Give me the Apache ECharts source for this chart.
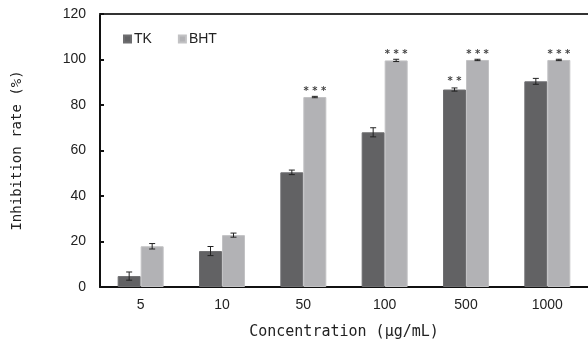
<!DOCTYPE html>
<html><head><meta charset="utf-8">
<script src="https://cdn.jsdelivr.net/npm/echarts@6/dist/echarts.min.js"></script>
<style>html,body{margin:0;padding:0;background:#fff}#c{width:588px;height:347px}</style>
</head><body><div id="c"></div>
<script>
const categories = ['5', '10', '50', '100', '500', '1000'];
const tkValues = [4.8, 15.8, 50.4, 68.0, 86.8, 90.4];
const tkErrors = [1.8, 2.0, 1.0, 2.0, 0.7, 1.3];
const bhtValues = [17.9, 22.8, 83.5, 99.6, 99.8, 99.8];
const bhtErrors = [1.2, 0.9, 0.3, 0.5, 0.3, 0.3];
const tkSig = ['', '', '', '', '**', ''];
const bhtSig = ['', '', '***', '***', '***', '***'];
const yTicks = [0, 20, 40, 60, 80, 100, 120];

const chart = echarts.init(document.getElementById('c'));
const barW = 23;
function errSeries(name, vals, errs, offset) {
  return {
    type: 'custom', name: name + '_err', silent: true, z: 5,
    data: vals.map((v, i) => [i, v, errs[i]]),
    renderItem: function (params, api) {
      const i = api.value(0), v = api.value(1), e = api.value(2);
      const hi = api.coord([i, v + e]);
      const lo = api.coord([i, v - e]);
      const x = hi[0] + offset;
      const cap = 3;
      const st = { stroke: '#222', lineWidth: 1 };
      return { type: 'group', children: [
        { type: 'line', shape: { x1: x, y1: hi[1], x2: x, y2: lo[1] }, style: st },
        { type: 'line', shape: { x1: x - cap, y1: hi[1], x2: x + cap, y2: hi[1] }, style: st },
        { type: 'line', shape: { x1: x - cap, y1: lo[1], x2: x + cap, y2: lo[1] }, style: st }
      ]};
    }
  };
}
function sigLabel(sig) {
  return {
    show: true, position: 'top', fontSize: 10, color: '#444', fontFamily: 'DejaVu Sans', fontWeight: 'bold',
    formatter: p => sig[p.dataIndex].split('').join(' ')
  };
}
const option = {
  animation: false,
  grid: { left: 100, top: 14, width: 491, height: 273 },
  legend: {
    left: 118, top: 27, itemWidth: 7, itemHeight: 7, itemGap: 26, icon: 'rect',
    textStyle: { fontFamily: 'Liberation Sans', fontSize: 14, color: '#222', padding: [0, 0, 0, -2] },
    data: ['TK', 'BHT']
  },
  xAxis: [{
    type: 'category', data: categories,
    name: 'Concentration (μg/mL)', nameLocation: 'middle', nameGap: 38,
    nameTextStyle: { fontFamily: 'DejaVu Sans Mono', fontSize: 15, color: '#222' },
    axisLine: { lineStyle: { color: '#111', width: 2 } },
    axisTick: { inside: true, length: 5, lineStyle: { color: '#111', width: 2 } },
    axisLabel: { fontFamily: 'Liberation Sans', fontSize: 14, color: '#222', margin: 11 }
  }, {
    type: 'category', data: categories, position: 'top',
    axisLine: { show: true, lineStyle: { color: '#333', width: 2 } },
    axisTick: { show: false }, axisLabel: { show: false }
  }],
  yAxis: {
    type: 'value', min: 0, max: 120, interval: 20,
    name: 'Inhibition rate (%)', nameLocation: 'middle', nameGap: 76,
    nameTextStyle: { fontFamily: 'DejaVu Sans Mono', fontSize: 14, color: '#222' },
    axisLine: { show: true, lineStyle: { color: '#111', width: 2 } },
    axisTick: { show: true, inside: true, length: 4, lineStyle: { color: '#111', width: 2 } },
    axisLabel: { fontFamily: 'Liberation Sans', fontSize: 14, color: '#222', margin: 14,
      formatter: v => yTicks.includes(v) ? String(v) : '' },
    splitLine: { show: false }
  },
  series: [
    { name: 'TK', type: 'bar', data: tkValues, barWidth: barW, barGap: '0%',
      itemStyle: { color: '#626264', borderColor: '#6e6e70', borderWidth: 1 },
      label: Object.assign(sigLabel(tkSig), { distance: 3 }) },
    { name: 'BHT', type: 'bar', data: bhtValues, barWidth: barW,
      itemStyle: { color: '#b2b2b5', borderColor: '#c2c2c4', borderWidth: 1 },
      label: Object.assign(sigLabel(bhtSig), { distance: 1 }) },
    errSeries('TK', tkValues, tkErrors, -barW / 2),
    errSeries('BHT', bhtValues, bhtErrors, barW / 2)
  ]
};
chart.setOption(option);
</script></body></html>
